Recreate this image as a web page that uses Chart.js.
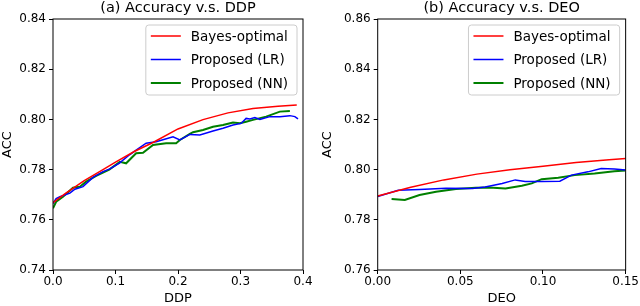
<!DOCTYPE html>
<html>
<head>
<meta charset="utf-8">
<script src="https://cdn.jsdelivr.net/npm/chart.js@4.4.0/dist/chart.umd.min.js"></script>
<style>
  html, body { margin: 0; padding: 0; background: #fff; }
  #wrap { display: flex; width: 640px; height: 306px; }
  canvas { display: block; }
</style>
</head>
<body>
<div id="wrap">
  <canvas id="ddp" width="320" height="306"></canvas>
  <canvas id="deo" width="320" height="306"></canvas>
</div>
<script>
// series names
const seriesNames = ['Bayes-optimal', 'Proposed (LR)', 'Proposed (NN)'];

// (a) accuracy vs DDP
const ddpBayesX = [0, 0.02, 0.05, 0.08, 0.1, 0.13, 0.16, 0.2, 0.24, 0.28, 0.32, 0.36, 0.39];
const ddpBayesY = [0.7668, 0.7705, 0.7756, 0.7800, 0.7830, 0.7872, 0.7908, 0.7962, 0.7999, 0.8026, 0.8043, 0.8052, 0.8057];
const ddpLrX = [0, 0.005, 0.011, 0.027, 0.035, 0.048, 0.064, 0.08, 0.091, 0.107, 0.112, 0.123, 0.133, 0.149, 0.165, 0.18, 0.192, 0.203, 0.219, 0.235, 0.256, 0.272, 0.288, 0.301, 0.309, 0.315, 0.323, 0.331, 0.347, 0.363, 0.379, 0.387, 0.392];
const ddpLrY = [0.7665, 0.7685, 0.7692, 0.7706, 0.7722, 0.7732, 0.7769, 0.7792, 0.7803, 0.7827, 0.7838, 0.7860, 0.7878, 0.7905, 0.7911, 0.7922, 0.7931, 0.7918, 0.7940, 0.7938, 0.7954, 0.7965, 0.7978, 0.7984, 0.8004, 0.8002, 0.8007, 0.8000, 0.8011, 0.8011, 0.8015, 0.8011, 0.8002];
const ddpNnX = [0, 0.005, 0.016, 0.032, 0.043, 0.053, 0.069, 0.09, 0.107, 0.117, 0.133, 0.144, 0.16, 0.181, 0.197, 0.203, 0.219, 0.224, 0.24, 0.256, 0.272, 0.288, 0.299, 0.309, 0.32, 0.341, 0.363, 0.379];
const ddpNnY = [0.7646, 0.7672, 0.7692, 0.7728, 0.7732, 0.7752, 0.7775, 0.7800, 0.7831, 0.7825, 0.7865, 0.7867, 0.7898, 0.7905, 0.7905, 0.7918, 0.7942, 0.7949, 0.7958, 0.7971, 0.7978, 0.7988, 0.7985, 0.7991, 0.7998, 0.8011, 0.8031, 0.8033];

// (b) accuracy vs DEO
const deoBayesX = [0, 0.02, 0.04, 0.06, 0.08, 0.1, 0.12, 0.14, 0.15];
const deoBayesY = [0.7895, 0.7930, 0.7959, 0.7982, 0.7999, 0.8013, 0.8028, 0.8039, 0.8044];
const deoLrX = [0, 0.0124, 0.0253, 0.0413, 0.0573, 0.065, 0.0753, 0.0832, 0.0892, 0.0992, 0.1102, 0.1172, 0.1272, 0.1352, 0.1432, 0.15];
const deoLrY = [0.7893, 0.7918, 0.7921, 0.7926, 0.7925, 0.7931, 0.7945, 0.7959, 0.7953, 0.7953, 0.7954, 0.7978, 0.7991, 0.8004, 0.8002, 0.7998];
const deoNnX = [0.0084, 0.0164, 0.0253, 0.0353, 0.0473, 0.0593, 0.0673, 0.0773, 0.0872, 0.0932, 0.0992, 0.1092, 0.1192, 0.1312, 0.1432, 0.15];
const deoNnY = [0.7883, 0.7879, 0.7899, 0.7912, 0.7923, 0.7928, 0.7929, 0.7925, 0.7936, 0.7945, 0.7962, 0.7968, 0.7978, 0.7984, 0.7993, 0.7996];

Chart.defaults.font.family = '"DejaVu Sans", sans-serif';
Chart.defaults.color = '#000';

const pts = (xs, ys) => xs.map((x, i) => ({ x: x, y: ys[i] }));

function makeSets(bx, by, lx, ly, nx, ny) {
  const base = { pointRadius: 0, tension: 0, fill: false };
  return [
    Object.assign({ label: seriesNames[0], data: pts(bx, by), borderColor: '#ff0000', borderWidth: 1.5 }, base),
    Object.assign({ label: seriesNames[1], data: pts(lx, ly), borderColor: '#0000ff', borderWidth: 1.5 }, base),
    Object.assign({ label: seriesNames[2], data: pts(nx, ny), borderColor: '#008000', borderWidth: 2 }, base)
  ];
}

// black frame around the plot and a matplotlib-like legend box
const frameAndLegend = {
  id: 'frameAndLegend',
  afterDatasetsDraw(chart) {
    const ctx = chart.ctx, a = chart.chartArea;
    ctx.save();
    ctx.strokeStyle = '#000';
    ctx.lineWidth = 1;
    ctx.strokeRect(a.left, a.top, a.right - a.left, a.bottom - a.top);

    ctx.font = '13.5px "DejaVu Sans"';
    const sets = chart.data.datasets;
    const textW = Math.max(...sets.map(d => ctx.measureText(d.label).width));
    const w = 45 + textW + 9, h = 70;
    const x0 = a.right - 6 - w, y0 = a.top + 6;
    ctx.beginPath();
    ctx.roundRect(x0, y0, w, h, 3);
    ctx.fillStyle = 'rgba(255,255,255,0.8)';
    ctx.fill();
    ctx.strokeStyle = '#cccccc';
    ctx.stroke();
    ctx.textBaseline = 'middle';
    sets.forEach((d, i) => {
      const y = y0 + 11 + i * 23.5;
      ctx.strokeStyle = d.borderColor;
      ctx.lineWidth = d.borderWidth;
      ctx.beginPath();
      ctx.moveTo(x0 + 5, y);
      ctx.lineTo(x0 + 35, y);
      ctx.stroke();
      ctx.fillStyle = '#000';
      ctx.fillText(d.label, x0 + 45, y + 1);
    });
    ctx.restore();
  }
};

function makeChart(id, title, xTitle, xMax, xStep, xDec, yMin, yMax, yWidth, padRight, sets) {
  return new Chart(document.getElementById(id), {
    type: 'line',
    data: { datasets: sets },
    options: {
      responsive: false,
      animation: false,
      layout: { padding: { left: 0, right: padRight, top: 0, bottom: 0 } },
      plugins: {
        legend: { display: false },
        tooltip: { enabled: false },
        title: {
          display: true, text: title, fullSize: false,
          font: { size: 14.5, weight: 'normal', lineHeight: 1.2 },
          padding: { top: 0, bottom: 1.6 }
        }
      },
      scales: {
        x: {
          type: 'linear', min: 0, max: xMax,
          afterFit: s => { s.height = 36; },
          border: { display: false },
          grid: { drawOnChartArea: false, drawTicks: true, tickLength: 4, color: '#000' },
          ticks: { stepSize: xStep, padding: 1, font: { size: 12 }, callback: v => v.toFixed(xDec) },
          title: { display: true, text: xTitle, font: { size: 13 }, padding: 0 }
        },
        y: {
          min: yMin, max: yMax,
          afterFit: s => { s.width = yWidth; },
          border: { display: false },
          grid: { drawOnChartArea: false, drawTicks: true, tickLength: 4, color: '#000' },
          ticks: { stepSize: 0.02, padding: 3, font: { size: 12 }, callback: v => v.toFixed(2) },
          title: { display: true, text: 'ACC', font: { size: 13 }, padding: 0 }
        }
      }
    },
    plugins: [frameAndLegend]
  });
}

makeChart('ddp', '(a) Accuracy v.s. DDP', 'DDP', 0.4, 0.1, 1, 0.74, 0.84, 53, 17,
  makeSets(ddpBayesX, ddpBayesY, ddpLrX, ddpLrY, ddpNnX, ddpNnY));
makeChart('deo', '(b) Accuracy v.s. DEO', 'DEO', 0.15, 0.05, 2, 0.76, 0.86, 57.7, 11.7,
  makeSets(deoBayesX, deoBayesY, deoLrX, deoLrY, deoNnX, deoNnY));
</script>
</body>
</html>
